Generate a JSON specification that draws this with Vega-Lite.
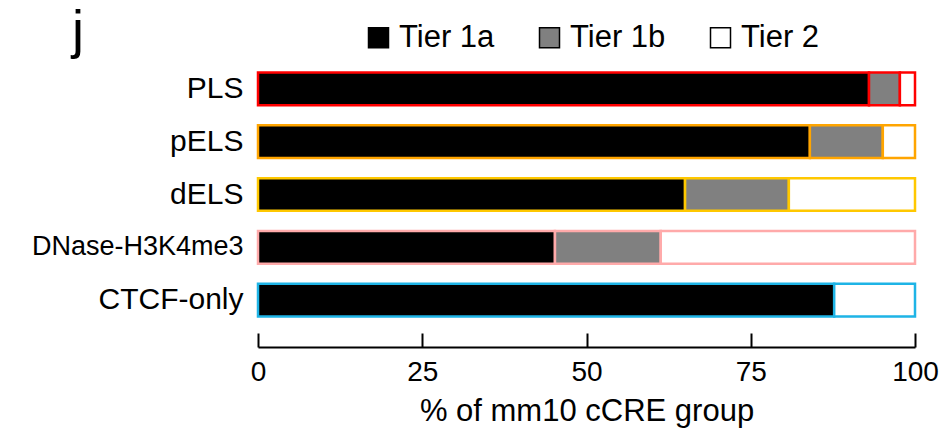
{
  "$schema": "https://vega.github.io/schema/vega-lite/v6.json",
  "width": 657,
  "height": 265,
  "autosize": {"type": "none"},
  "padding": {"left": 258, "top": 62, "right": 30, "bottom": 102},
  "background": "white",
  "title": {"text": "j", "anchor": "start", "frame": "group", "fontSize": 54, "fontWeight": "normal", "font": "Liberation Sans", "color": "black", "dx": -186, "baseline": "alphabetic", "offset": 10, "dy": 90},
  "config": {"view": {"stroke": null}, "font": "Liberation Sans"},
  "data": {"values": [
    {"group": "PLS", "tier": "Tier 1a", "value": 93.0},
    {"group": "PLS", "tier": "Tier 1b", "value": 4.7},
    {"group": "PLS", "tier": "Tier 2", "value": 2.3},
    {"group": "pELS", "tier": "Tier 1a", "value": 84.0},
    {"group": "pELS", "tier": "Tier 1b", "value": 11.1},
    {"group": "pELS", "tier": "Tier 2", "value": 4.9},
    {"group": "dELS", "tier": "Tier 1a", "value": 65.0},
    {"group": "dELS", "tier": "Tier 1b", "value": 15.8},
    {"group": "dELS", "tier": "Tier 2", "value": 19.2},
    {"group": "DNase-H3K4me3", "tier": "Tier 1a", "value": 45.2},
    {"group": "DNase-H3K4me3", "tier": "Tier 1b", "value": 16.1},
    {"group": "DNase-H3K4me3", "tier": "Tier 2", "value": 38.7},
    {"group": "CTCF-only", "tier": "Tier 1a", "value": 87.7},
    {"group": "CTCF-only", "tier": "Tier 2", "value": 12.3}
  ]},
  "mark": {"type": "bar", "strokeWidth": 2.5},
  "encoding": {
    "y": {
      "field": "group", "type": "nominal",
      "sort": ["PLS", "pELS", "dELS", "DNase-H3K4me3", "CTCF-only"],
      "scale": {"paddingInner": 0.38, "paddingOuter": 0.2},
      "axis": {"title": null, "domain": false, "ticks": false, "labelPadding": 15, "labelLimit": 300, "labelColor": "black", "labelFont": "Liberation Sans",
        "labelFontSize": {"condition": {"test": "datum.value == 'DNase-H3K4me3'", "value": 27}, "value": 30}}
    },
    "x": {
      "field": "value", "type": "quantitative", "stack": "zero",
      "scale": {"domain": [0, 100], "nice": false},
      "axis": {"title": "% of mm10 cCRE group", "values": [0, 25, 50, 75, 100], "grid": false, "offset": 20, "labelFlush": false,
        "domainColor": "black", "domainWidth": 2, "tickColor": "black", "tickWidth": 2, "tickSize": -14,
        "labelPadding": 25, "labelFontSize": 28, "labelColor": "black", "labelFont": "Liberation Sans",
        "titleFontSize": 31, "titleFontWeight": "normal", "titleColor": "black", "titlePadding": 10, "titleFont": "Liberation Sans"}
    },
    "color": {
      "field": "tier", "type": "nominal",
      "scale": {"domain": ["Tier 1a", "Tier 1b", "Tier 2"], "range": ["#000000", "#808080", "#ffffff"]},
      "legend": {"title": null, "orient": "none", "legendX": 105, "legendY": -40, "direction": "horizontal",
        "symbolType": "square", "symbolSize": 400, "symbolStrokeColor": "black", "symbolStrokeWidth": 1.5,
        "labelFontSize": 31, "labelColor": "black", "labelFont": "Liberation Sans", "labelOffset": 5, "columnPadding": 39}
    },
    "stroke": {
      "field": "group", "type": "nominal", "legend": null,
      "scale": {"domain": ["PLS", "pELS", "dELS", "DNase-H3K4me3", "CTCF-only"], "range": ["#ff0000", "#ffa500", "#ffc800", "#ffaaaa", "#1eb4e6"]}
    }
  }
}
